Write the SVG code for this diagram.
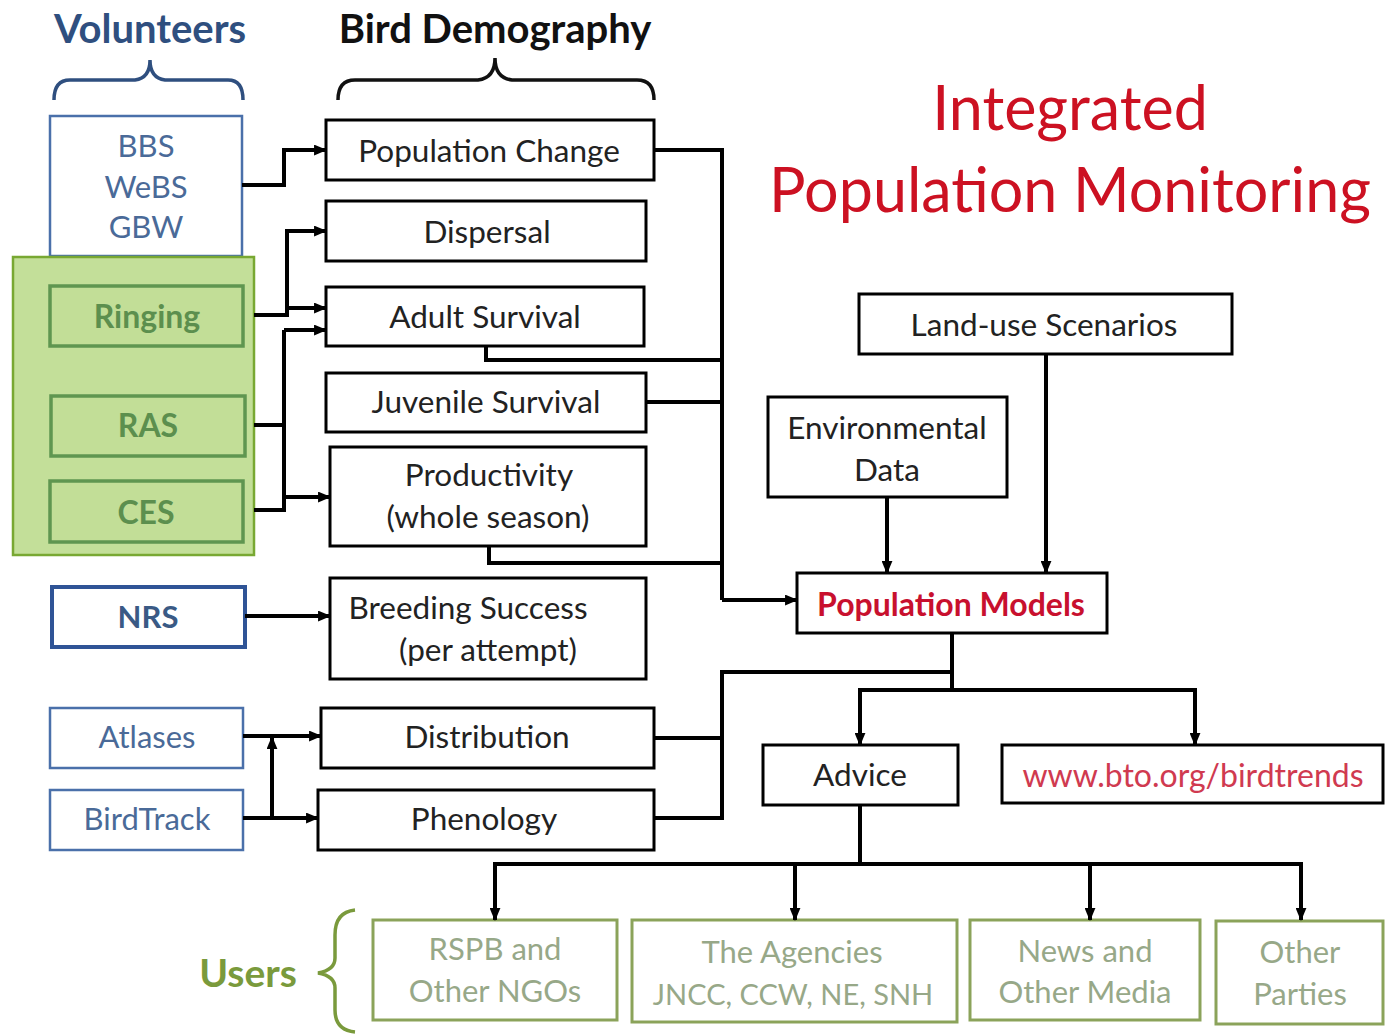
<svg xmlns="http://www.w3.org/2000/svg" width="1386" height="1035" viewBox="0 0 1386 1035">
<defs>
<marker id="ah" viewBox="0 0 12 10" refX="11" refY="5" markerWidth="13" markerHeight="11" markerUnits="userSpaceOnUse" orient="auto">
<path d="M0,0 L12,5 L0,10 z" fill="#000"/>
</marker>
</defs>
<style>
text{font-family:Lato,"Open Sans","Liberation Sans",sans-serif;text-anchor:middle;dominant-baseline:central}
.bk{fill:#fff;stroke:#000;stroke-width:3}
.bl{fill:#fff;stroke:#4a70aa;stroke-width:2.5}
.gr{fill:#c2de97;stroke:#5f9650;stroke-width:3.5}
.us{fill:#fff;stroke:#8ba35a;stroke-width:3}
.t{font-size:31.5px;fill:#222}
.tb{font-size:31px;fill:#4a6a98}
.tg{font-size:32px;fill:#5c8f4e;font-weight:bold}
.tu{font-size:31px;fill:#97a888}
.c{fill:none;stroke:#000;stroke-width:4}
.br{fill:none;stroke-width:3.5}
</style>
<rect width="1386" height="1035" fill="#fff"/>

<g id="headings">
<text x="150" y="28" style="font-size:40px;font-weight:bold;fill:#2f4f7f">Volunteers</text>
<path class="br" stroke="#2f4f7f" d="M54,100 Q54,80 70,80 L135,80 Q150,78 150,60 Q150,78 165,80 L228,80 Q243,80 243,100"/>
<text x="495" y="28" style="font-size:40px;font-weight:bold;fill:#111">Bird Demography</text>
<path class="br" stroke="#111" d="M338,100 Q338,80 355,80 L478,80 Q495,78 495,58 Q495,78 512,80 L637,80 Q654,80 654,100"/>
<text x="1070" y="106" style="font-size:61px;fill:#cc1122">Integrated</text>
<text x="1070" y="188" style="font-size:61px;fill:#cc1122">Population Monitoring</text>
<text x="248" y="972" style="font-size:39px;font-weight:bold;fill:#7a9a3c">Users</text>
<path class="br" stroke="#7a9a3c" d="M355,910 Q335,912 335,935 L335,958 Q335,970 318,973 Q335,976 335,988 L335,1010 Q335,1030 355,1032"/>
</g>

<g id="volunteers">
<g id="bbs"><rect class="bl" x="50" y="116" width="192" height="140"/>
<text class="tb" x="146" y="145">BBS</text><text class="tb" x="146" y="186">WeBS</text><text class="tb" x="146" y="226">GBW</text></g>
<rect id="ringing-group" x="13" y="257" width="241" height="298" fill="#c3df99" stroke="#78a832" stroke-width="2.5"/>
<g id="ringing"><rect class="gr" x="50" y="286" width="193" height="60"/><text class="tg" x="147" y="315">Ringing</text></g>
<g id="ras"><rect class="gr" x="51" y="396" width="194" height="60"/><text class="tg" x="148" y="424">RAS</text></g>
<g id="ces"><rect class="gr" x="50" y="481" width="193" height="61"/><text class="tg" x="146" y="511">CES</text></g>
<g id="nrs"><rect x="52" y="587" width="193" height="60" fill="#fff" stroke="#2f5496" stroke-width="4"/><text x="148" y="616" style="font-size:31px;font-weight:bold;fill:#3a5a85">NRS</text></g>
<g id="atlases"><rect class="bl" x="50" y="708" width="193" height="60"/><text class="tb" x="147" y="736">Atlases</text></g>
<g id="birdtrack"><rect class="bl" x="50" y="790" width="193" height="60"/><text class="tb" x="147" y="818">BirdTrack</text></g>
</g>

<g id="demography">
<g id="population-change"><rect class="bk" x="326" y="120" width="328" height="60"/><text class="t" x="489" y="150">Population Change</text></g>
<g id="dispersal"><rect class="bk" x="326" y="201" width="320" height="60"/><text class="t" x="487" y="231">Dispersal</text></g>
<g id="adult-survival"><rect class="bk" x="326" y="287" width="318" height="59"/><text class="t" x="485" y="316">Adult Survival</text></g>
<g id="juvenile-survival"><rect class="bk" x="326" y="373" width="320" height="59"/><text class="t" x="486" y="401">Juvenile Survival</text></g>
<g id="productivity"><rect class="bk" x="330" y="447" width="316" height="99"/><text class="t" x="489" y="474">Productivity</text><text class="t" x="488" y="516">(whole season)</text></g>
<g id="breeding-success"><rect class="bk" x="330" y="578" width="316" height="101"/><text class="t" x="468" y="607">Breeding Success</text><text class="t" x="488" y="649">(per attempt)</text></g>
<g id="distribution"><rect class="bk" x="321" y="708" width="333" height="60"/><text class="t" x="487" y="736">Distribution</text></g>
<g id="phenology"><rect class="bk" x="318" y="790" width="336" height="60"/><text class="t" x="484" y="818">Phenology</text></g>
</g>

<g id="modelling">
<g id="land-use"><rect class="bk" x="859" y="294" width="373" height="60"/><text class="t" x="1044" y="324">Land-use Scenarios</text></g>
<g id="environmental-data"><rect class="bk" x="768" y="397" width="239" height="100"/><text class="t" x="887" y="427">Environmental</text><text class="t" x="887" y="469">Data</text></g>
<g id="population-models"><rect class="bk" x="797" y="573" width="310" height="60"/><text x="951" y="603" style="font-size:32px;font-weight:bold;fill:#c8102e">Population Models</text></g>
<g id="advice"><rect class="bk" x="763" y="745" width="195" height="60"/><text class="t" x="860" y="774">Advice</text></g>
<g id="birdtrends"><rect class="bk" x="1002" y="745" width="381" height="58"/><text x="1193" y="774" style="font-size:32px;fill:#d03a50">www.bto.org/birdtrends</text></g>
</g>

<g id="users">
<g id="rspb"><rect class="us" x="373" y="920" width="244" height="100"/><text class="tu" x="495" y="948">RSPB and</text><text class="tu" x="495" y="990">Other NGOs</text></g>
<g id="agencies"><rect class="us" x="632" y="920" width="325" height="102"/><text class="tu" x="792" y="951">The Agencies</text><text class="tu" x="793" y="993" style="font-size:29px">JNCC, CCW, NE, SNH</text></g>
<g id="media"><rect class="us" x="970" y="920" width="230" height="100"/><text class="tu" x="1085" y="950">News and</text><text class="tu" x="1085" y="991">Other Media</text></g>
<g id="other"><rect class="us" x="1216" y="921" width="167" height="103"/><text class="tu" x="1300" y="951">Other</text><text class="tu" x="1300" y="993">Parties</text></g>
</g>

<g id="connectors">
<path class="c" d="M242,185 H284 V150 H326" marker-end="url(#ah)"/>
<path class="c" d="M254,315 H287 V231 H326" marker-end="url(#ah)"/>
<path class="c" d="M287,308 H326" marker-end="url(#ah)"/>
<path class="c" d="M284,330 H326" marker-end="url(#ah)"/>
<path class="c" d="M254,425 H284 M254,510 H284 V330"/>
<path class="c" d="M284,497 H330" marker-end="url(#ah)"/>
<path class="c" d="M245,616 H330" marker-end="url(#ah)"/>
<path class="c" d="M243,736 H321" marker-end="url(#ah)"/>
<path class="c" d="M243,818 H318" marker-end="url(#ah)"/>
<path class="c" d="M272,818 V737" marker-end="url(#ah)"/>
<path class="c" d="M654,150 H722 V600 M486,346 V360 H722 M646,402 H722 M489,546 V563 H722"/>
<path class="c" d="M722,600 H797" marker-end="url(#ah)"/>
<path class="c" d="M654,738 H722 M654,818 H722 V672 H952"/>
<path class="c" d="M887,497 V573" marker-end="url(#ah)"/>
<path class="c" d="M1046,354 V573" marker-end="url(#ah)"/>
<path class="c" d="M952,633 V690 M860,745 V690 H1195 V745" />
<path class="c" d="M860,700 V745" marker-end="url(#ah)"/>
<path class="c" d="M1195,700 V745" marker-end="url(#ah)"/>
<path class="c" d="M860,805 V864 M495,920 V864 H1301 V920"/>
<path class="c" d="M495,880 V920" marker-end="url(#ah)"/>
<path class="c" d="M795,864 V920" marker-end="url(#ah)"/>
<path class="c" d="M1090,864 V920" marker-end="url(#ah)"/>
<path class="c" d="M1301,880 V920" marker-end="url(#ah)"/>
</g>
</svg>
